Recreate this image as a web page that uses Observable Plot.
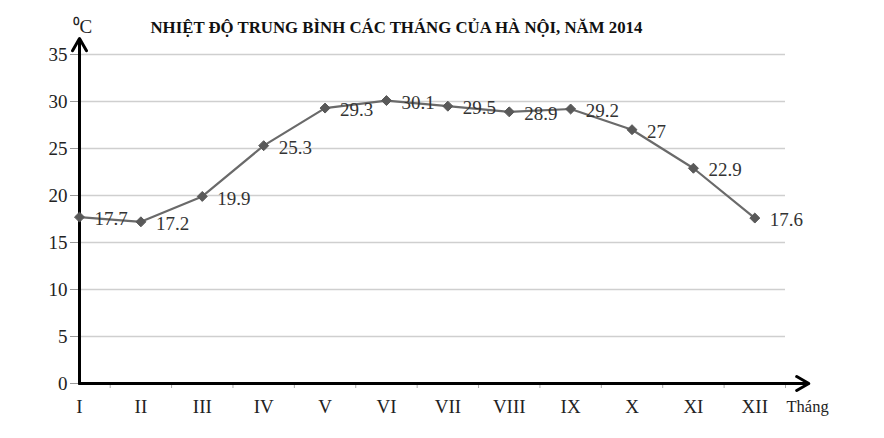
<!DOCTYPE html>
<html>
<head>
<meta charset="utf-8">
<script src="https://cdn.jsdelivr.net/npm/d3@7"></script>
<script src="https://cdn.jsdelivr.net/npm/@observablehq/plot@0.6"></script>
<style>
  body { margin: 0; background: #fff; }
  svg text { font-family: 'Liberation Serif', 'Times New Roman', serif; }
</style>
</head>
<body>
<div id="chart"></div>
<script>
const months = ["I", "II", "III", "IV", "V", "VI", "VII", "VIII", "IX", "X", "XI", "XII"];
const temps = [17.7, 17.2, 19.9, 25.3, 29.3, 30.1, 29.5, 28.9, 29.2, 27, 22.9, 17.6];
const yTicks = [0, 5, 10, 15, 20, 25, 30, 35];
const title = "NHIỆT ĐỘ TRUNG BÌNH CÁC THÁNG CỦA HÀ NỘI, NĂM 2014";

const data = months.map((m, i) => ({i, month: m, t: temps[i]}));
const serif = "'Liberation Serif', 'Times New Roman', serif";

let chart = Plot.plot({
  width: 884,
  height: 438,
  marginLeft: 79,
  marginRight: 99,
  marginTop: 54,
  marginBottom: 55,
  style: {fontFamily: serif, fontSize: "19px", color: "#222", background: "#fff"},
  x: {domain: [0, 11.5], axis: null},
  y: {domain: [0, 35], axis: null},
  marks: [
    // lưới ngang
    Plot.ruleY(yTicks.slice(1), {stroke: "#cfcfcf", strokeWidth: 1.5}),
    Plot.axisY({ticks: yTicks, label: null, tickSize: 9, tickPadding: 3, fontSize: 19, stroke: "#999"}),
    // nhãn tháng
    Plot.axisX({ticks: d3.range(months.length), label: null, tickFormat: i => months[i], tickSize: 0, tickPadding: 16, fontSize: 19}),
    // vạch chia giữa các tháng
    Plot.axisX({ticks: months.map((m, i) => i + 0.5), label: null, tickFormat: () => "", tickSize: 5, stroke: "#aaa"}),
    // trục có mũi tên
    Plot.arrow([0], {x1: () => 0, y1: () => 0, x2: () => 11.88, y2: () => 0, stroke: "#000", strokeWidth: 3, headLength: 7, bend: 0}),
    Plot.arrow([0], {x1: () => 0, y1: () => 0, x2: () => 0, y2: () => 36.7, stroke: "#000", strokeWidth: 3, headLength: 7, bend: 0}),
    Plot.line(data, {x: "i", y: "t", stroke: "#6a6a6a", strokeWidth: 2.2}),
    Plot.dot(data, {x: "i", y: "t", symbol: "diamond2", r: 4.5, fill: "#595959", stroke: "#595959", strokeWidth: 1}),
    Plot.text(data, {x: "i", y: "t", text: d => String(d.t), dx: 15, dy: 2, textAnchor: "start", fontSize: 19, fill: "#333"}),
    Plot.text([title], {frameAnchor: "top-left", dx: 71, dy: -33, textAnchor: "start", fontSize: 16.8, fontWeight: "bold", fill: "#111"}),
    Plot.text(["⁰C"], {frameAnchor: "top-left", dx: -7, dy: -35, textAnchor: "start", fontSize: 19, fill: "#222"}),
    Plot.text(["Tháng"], {frameAnchor: "bottom-right", dx: 1, dy: 28, textAnchor: "start", fontSize: 16.5, fill: "#222"})
  ]
});

d3.select("#chart").append(() => chart);
</script>
</body>
</html>
